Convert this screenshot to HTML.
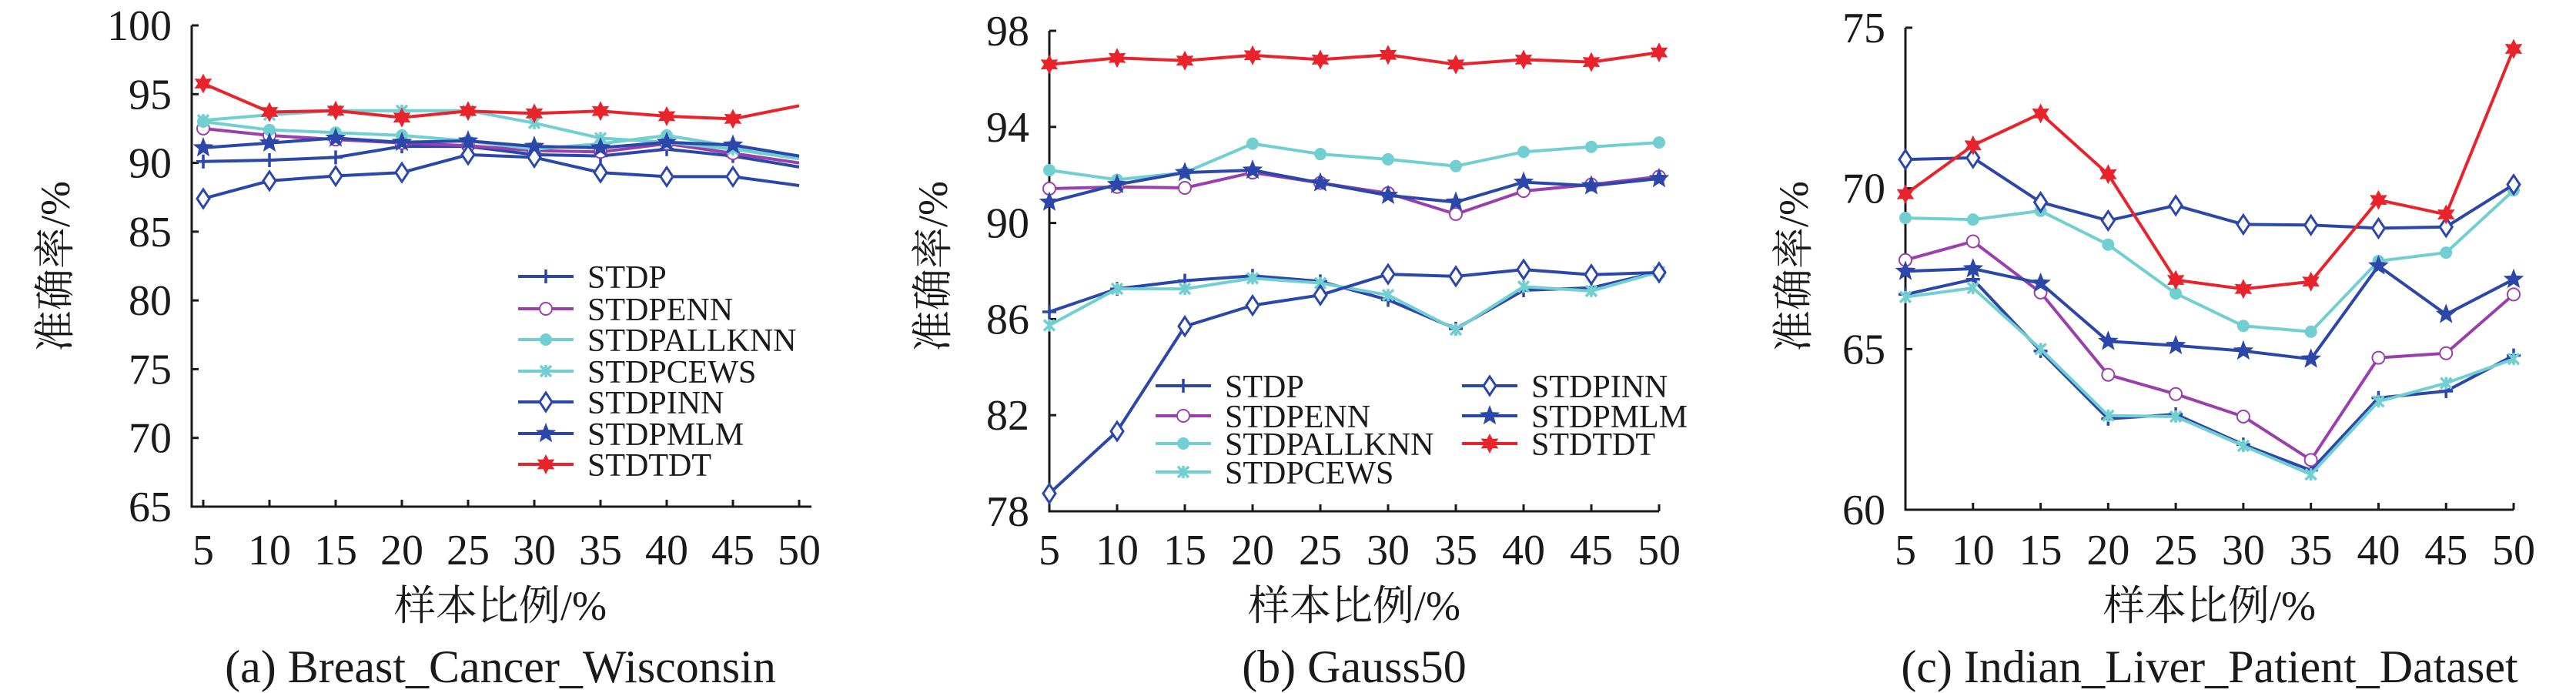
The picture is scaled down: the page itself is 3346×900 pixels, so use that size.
<!DOCTYPE html>
<html><head><meta charset="utf-8"><style>
html,body{margin:0;padding:0;background:#fff;}
svg{display:block;}
text{font-family:"Liberation Serif","Noto Serif CJK SC",serif;fill:#1a1a1a;}
.cjk{font-family:"Liberation Serif","Noto Serif CJK SC","Noto Sans CJK SC",serif;}
</style></head><body>
<svg id="chart" width="3346" height="900" viewBox="0 0 3346 900" xmlns="http://www.w3.org/2000/svg"></svg>
<script>
const categories = [5,10,15,20,25,30,35,40,45,50];
const seriesNames = ["STDP","STDPENN","STDPALLKNN","STDPCEWS","STDPINN","STDPMLM","STDTDT"];
// Panel (a) Breast_Cancer_Wisconsin
const aSTDP   = [90.1,90.2,90.4,91.2,91.2,90.6,90.5,91.0,90.5,89.7];
const aENN    = [92.5,92.0,91.7,91.45,91.25,90.9,90.8,91.4,90.7,90.0];
const aALLKNN = [93.0,92.4,92.2,92.0,91.6,91.0,91.4,92.0,91.2,90.4];
const aCEWS   = [93.1,93.5,93.8,93.8,93.8,92.9,91.8,91.5,91.0,90.3];
const aINN    = [87.4,88.7,89.05,89.3,90.6,90.4,89.3,89.0,89.0,88.35];
const aMLM    = [91.1,91.45,91.8,91.5,91.6,91.2,91.1,91.5,91.3,90.5];
const aTDT    = [95.77,93.7,93.8,93.3,93.77,93.6,93.77,93.4,93.2,94.16];
const aTicks  = [65,70,75,80,85,90,95,100];
// Panel (b) Gauss50
const bSTDP   = [86.3,87.26,87.6,87.8,87.57,86.8,85.6,87.2,87.3,87.96];
const bENN    = [91.43,91.5,91.46,92.1,91.67,91.24,90.37,91.33,91.6,91.93];
const bALLKNN = [92.2,91.8,92.1,93.3,92.87,92.65,92.37,92.96,93.17,93.35];
const bCEWS   = [85.74,87.26,87.26,87.7,87.5,87.0,85.56,87.35,87.17,87.96];
const bINN    = [78.74,81.33,85.7,86.57,87.0,87.87,87.78,88.06,87.85,87.94];
const bMLM    = [90.87,91.6,92.1,92.2,91.67,91.15,90.87,91.7,91.55,91.85];
const bTDT    = [96.6,96.87,96.76,96.98,96.8,97.0,96.6,96.8,96.7,97.1];
const bTicks  = [78,82,86,90,94,98];
// Panel (c) Indian_Liver_Patient_Dataset
const cSTDP   = [66.7,67.17,64.94,62.83,62.97,62.03,61.23,63.48,63.69,64.8];
const cENN    = [67.77,68.35,66.76,64.2,63.6,62.9,61.55,64.73,64.87,66.7];
const cALLKNN = [69.08,69.03,69.3,68.25,66.73,65.72,65.54,67.74,68.0,69.94];
const cCEWS   = [66.62,66.9,65.0,62.93,62.9,61.99,61.1,63.37,63.94,64.69];
const cINN    = [70.9,70.95,69.57,69.0,69.47,68.88,68.86,68.76,68.8,70.12];
const cMLM    = [67.42,67.5,67.05,65.24,65.11,64.94,64.69,67.59,66.08,67.17];
const cTDT    = [69.82,71.34,72.33,70.44,67.15,66.87,67.1,69.64,69.19,74.34];
const cTicks  = [60,65,70,75];

const BLUE="#2b47a9", PURPLE="#9a40ad", CYAN="#72cfd1", RED="#e8232b";
const styles = [
  {c:BLUE,m:"plus"},{c:PURPLE,m:"ocircle"},{c:CYAN,m:"fcircle"},{c:CYAN,m:"x"},
  {c:BLUE,m:"diamond"},{c:BLUE,m:"star5"},{c:RED,m:"star6"}];
const NS="http://www.w3.org/2000/svg";
const svg=document.getElementById("chart");
function el(tag,attrs,parent){const e=document.createElementNS(NS,tag);for(const k in attrs)e.setAttribute(k,attrs[k]);(parent||svg).appendChild(e);return e;}
function starPts(x,y,n,R,r){let p=[];for(let i=0;i<2*n;i++){const a=-Math.PI/2+i*Math.PI/n;const rr=i%2?r:R;p.push((x+rr*Math.cos(a)).toFixed(1)+","+(y+rr*Math.sin(a)).toFixed(1));}return p.join(" ");}
function marker(g,type,c,x,y){
  let e;
  if(type==="plus"){e=el("path",{d:`M${x-9},${y}H${x+9}M${x},${y-9}V${y+9}`,stroke:c,"stroke-width":3.5},g);}
  else if(type==="ocircle"){e=el("circle",{cx:x,cy:y,r:8,fill:"#fff",stroke:c,"stroke-width":2},g);}
  else if(type==="fcircle"){e=el("circle",{cx:x,cy:y,r:8,fill:c},g);}
  else if(type==="x"){e=el("path",{d:`M${x-7},${y-7}L${x+7},${y+7}M${x-7},${y+7}L${x+7},${y-7}M${x},${y-8}V${y+8}`,stroke:c,"stroke-width":3.5},g);}
  else if(type==="diamond"){e=el("polygon",{points:`${x},${y-12} ${x+8},${y} ${x},${y+12} ${x-8},${y}`,fill:"#fff",stroke:c,"stroke-width":3},g);}
  else if(type==="star5"){e=el("polygon",{points:starPts(x,y,5,14,6),fill:c},g);}
  else {e=el("polygon",{points:starPts(x,y,6,13,7),fill:c},g);}
  
  
}
function panel(id,cfg){
  const g=el("g",{});
  
  
  const X=v=>cfg.x0+(v-5)/45*(cfg.x1-cfg.x0);
  const Y=v=>cfg.yb-(v-cfg.ymin)/(cfg.ymax-cfg.ymin)*(cfg.yb-cfg.yt);
  const ax=el("path",{d:`M${cfg.ax},${cfg.yt}V${cfg.yb}H${cfg.axEnd}`,stroke:"#1a1a1a","stroke-width":3,fill:"none"},g);
  
  
  cfg.ticks.forEach(t=>{
    el("line",{x1:cfg.ax,x2:cfg.ax+9,y1:Y(t),y2:Y(t),stroke:"#1a1a1a","stroke-width":3},g);
    const tx=el("text",{x:cfg.ax-26,y:Y(t)+19,"text-anchor":"end","font-size":56},g);
    tx.textContent=t;
    
    
  });
  categories.forEach(c=>{
    el("line",{x1:X(c),x2:X(c),y1:cfg.yb,y2:cfg.yb-9,stroke:"#1a1a1a","stroke-width":3},g);
    const tx=el("text",{x:X(c),y:733,"text-anchor":"middle","font-size":56},g);
    tx.textContent=c;
    
    
  });
  cfg.series.forEach((s,i)=>{
    const st=styles[i];
    const ln=el("polyline",{points:s.map((v,j)=>X(categories[j]).toFixed(1)+","+Y(v).toFixed(1)).join(" "),fill:"none",stroke:st.c,"stroke-width":4,"stroke-linejoin":"round"},g);
    
    
    s.forEach((v,j)=>{ if(cfg.skipLast && j===s.length-1) return; marker(g,st.m,st.c,X(categories[j]),Y(v)); });
  });
  if(cfg.legend){
    cfg.legend.forEach((p,i)=>{
      const st=styles[i];
      const lg=el("g",{},g);
      
      
      el("line",{x1:p[0],x2:p[0]+72,y1:p[1],y2:p[1],stroke:st.c,"stroke-width":4},lg);
      marker(lg,st.m,st.c,p[0]+36,p[1]);
      const t=el("text",{x:p[0]+90,y:p[1]+15,"font-size":42},lg);
      t.textContent=seriesNames[i];
    });
  }
  const yt=el("text",{x:cfg.ytx,y:346,"font-size":54,"text-anchor":"middle",transform:`rotate(-90 ${cfg.ytx} 346)`,class:"cjk"},g);
  yt.textContent="准确率/%";
  
  
  const xt=el("text",{x:cfg.xtx,y:805,"font-size":54,"text-anchor":"middle",class:"cjk"},g);
  xt.textContent="样本比例/%";
  
  
  const cap=el("text",{x:cfg.xtx,y:886,"font-size":60,"text-anchor":"middle"},g);
  cap.textContent=cfg.caption;
  
  
}
panel("breast-cancer",{ax:249,axEnd:1054,x0:264,x1:1038,yt:33,yb:658,ymin:65,ymax:100,ticks:aTicks,
  series:[aSTDP,aENN,aALLKNN,aCEWS,aINN,aMLM,aTDT],skipLast:true,
  legend:[[673,359],[673,401],[673,441],[673,482],[673,522],[673,563],[673,603]],
  ytx:90,xtx:650,caption:"(a) Breast_Cancer_Wisconsin"});
panel("gauss50",{ax:1363,axEnd:2155,x0:1363,x1:2155,yt:40,yb:664,ymin:78,ymax:98,ticks:bTicks,
  series:[bSTDP,bENN,bALLKNN,bCEWS,bINN,bMLM,bTDT],skipLast:false,
  legend:[[1501,501],[1501,540],[1501,576],[1501,613],[1899,501],[1899,540],[1899,576]],
  ytx:1230,xtx:1759,caption:"(b) Gauss50"});
panel("indian-liver",{ax:2475,axEnd:3265,x0:2475,x1:3265,yt:36,yb:662,ymin:60,ymax:75,ticks:cTicks,
  series:[cSTDP,cENN,cALLKNN,cCEWS,cINN,cMLM,cTDT],skipLast:false,legend:null,
  ytx:2348,xtx:2870,caption:"(c) Indian_Liver_Patient_Dataset"});
</script>
</body></html>
